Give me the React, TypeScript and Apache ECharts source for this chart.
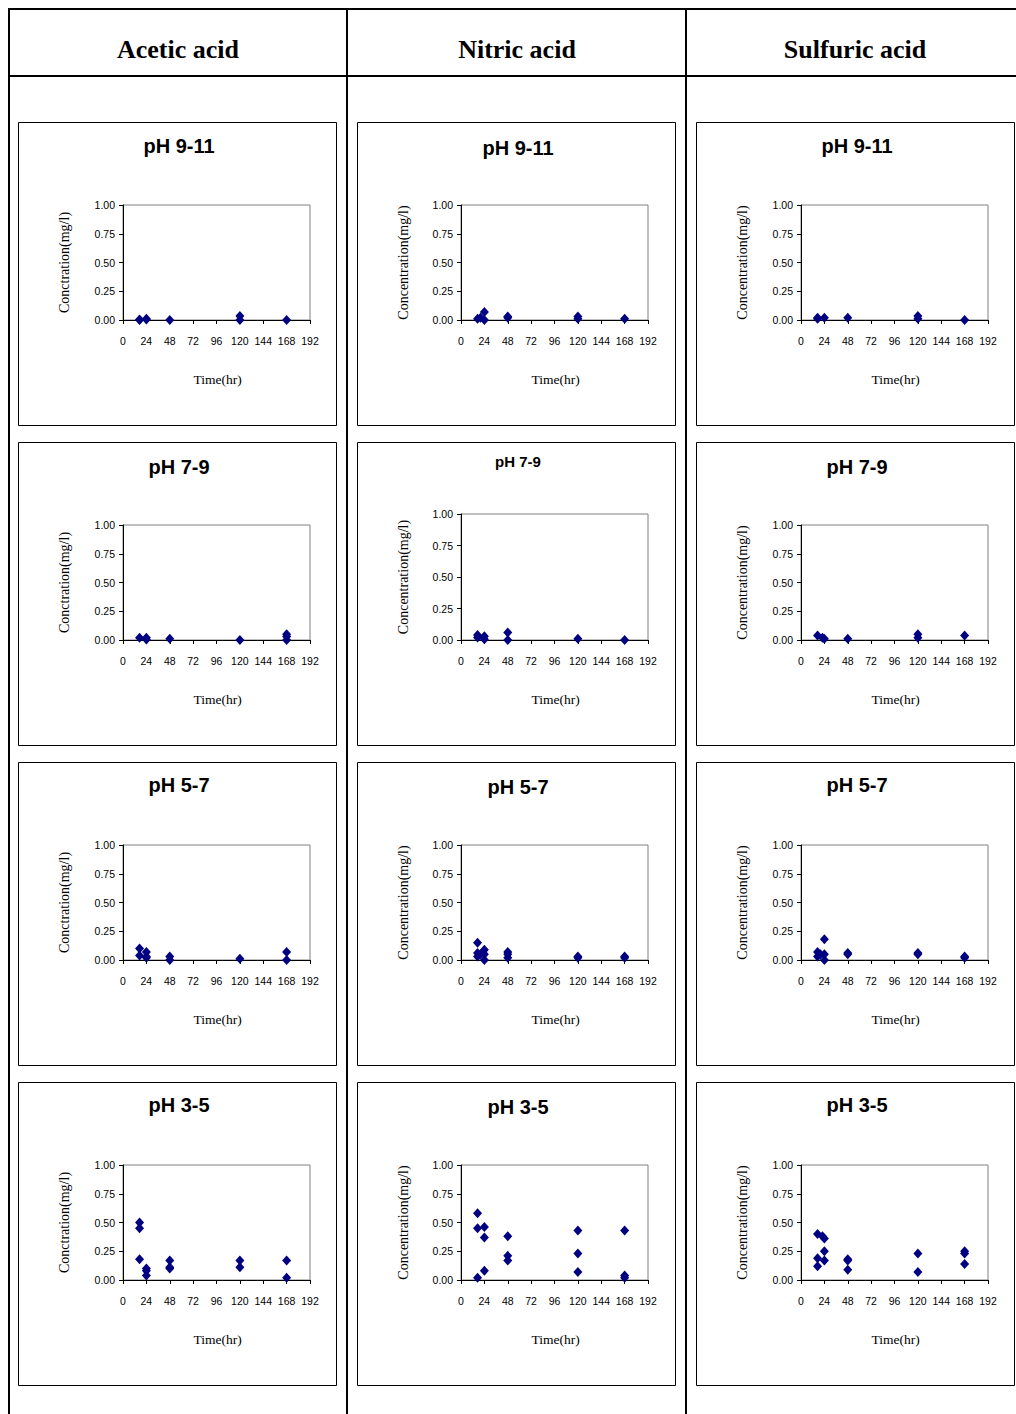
import React, { useEffect, useRef } from "react";
import * as echarts from "echarts";

// ---- labels ----
const acidNames = ["Acetic acid", "Nitric acid", "Sulfuric acid"];
const phRanges = ["pH 9-11", "pH 7-9", "pH 5-7", "pH 3-5"];
const yAxisNames = ["Conctration(mg/l)", "Concentration(mg/l)", "Concentration(mg/l)"];
const xAxisName = "Time(hr)";
const xMin = 0;
const xMax = 192;
const xStep = 24;
const yMin = 0;
const yMax = 1;
const yStep = 0.25;

// ---- data: [time (hr), concentration (mg/l)] ----
const aceticPh9to11 = [[17, 0.0], [17, 0.005], [24, 0.01], [24, 0.005], [48, 0.0], [120, 0.035], [120, 0.0], [168, 0.0]];
const nitricPh9to11 = [[17, 0.01], [20, 0.02], [24, 0.07], [24, 0.0], [48, 0.03], [48, 0.02], [120, 0.03], [120, 0.01], [168, 0.01]];
const sulfuricPh9to11 = [[17, 0.01], [17, 0.02], [24, 0.02], [48, 0.02], [120, 0.035], [120, 0.01], [168, 0.0]];

const aceticPh7to9 = [[17, 0.02], [24, 0.02], [24, 0.005], [48, 0.01], [120, 0.0], [168, 0.05], [168, 0.03], [168, 0.0]];
const nitricPh7to9 = [[17, 0.04], [17, 0.02], [24, 0.03], [24, 0.005], [48, 0.06], [48, 0.0], [120, 0.01], [168, 0.0]];
const sulfuricPh7to9 = [[17, 0.04], [22, 0.02], [24, 0.01], [48, 0.01], [120, 0.05], [120, 0.02], [168, 0.04]];

const aceticPh5to7 = [[17, 0.1], [17, 0.04], [24, 0.07], [24, 0.03], [24, 0.02], [48, 0.03], [48, 0.0], [120, 0.01], [168, 0.07], [168, 0.0]];
const nitricPh5to7 = [[17, 0.15], [17, 0.06], [17, 0.03], [20, 0.05], [24, 0.09], [24, 0.05], [24, 0.0], [48, 0.07], [48, 0.05], [48, 0.02], [120, 0.03], [120, 0.02], [168, 0.03], [168, 0.02]];
const sulfuricPh5to7 = [[17, 0.07], [17, 0.03], [20, 0.05], [24, 0.18], [24, 0.05], [24, 0.0], [48, 0.06], [48, 0.05], [120, 0.06], [120, 0.05], [168, 0.03], [168, 0.02]];

const aceticPh3to5 = [[17, 0.5], [17, 0.45], [17, 0.18], [24, 0.1], [24, 0.08], [24, 0.04], [48, 0.17], [48, 0.11], [48, 0.1], [120, 0.17], [120, 0.11], [168, 0.17], [168, 0.02]];
const nitricPh3to5 = [[17, 0.58], [17, 0.45], [17, 0.02], [24, 0.46], [24, 0.37], [24, 0.08], [48, 0.38], [48, 0.21], [48, 0.17], [120, 0.43], [120, 0.23], [120, 0.07], [168, 0.43], [168, 0.04], [168, 0.02]];
const sulfuricPh3to5 = [[17, 0.4], [17, 0.19], [17, 0.12], [22, 0.38], [24, 0.36], [24, 0.25], [24, 0.17], [48, 0.18], [48, 0.17], [48, 0.09], [120, 0.23], [120, 0.07], [168, 0.25], [168, 0.23], [168, 0.14]];

const panelData = [
  [aceticPh9to11, nitricPh9to11, sulfuricPh9to11],
  [aceticPh7to9, nitricPh7to9, sulfuricPh7to9],
  [aceticPh5to7, nitricPh5to7, sulfuricPh5to7],
  [aceticPh3to5, nitricPh3to5, sulfuricPh3to5],
];

// ---- layout ----
const W = 1016;
const H = 1414;
const colLeft = [18, 357, 696];
const rowTop = [122, 442, 762, 1082];
const panelW = 318;
const panelH = 303;

const NAVY = "#000080";
const SANS = "Liberation Sans, Arial, sans-serif";
const SERIF = "Liberation Serif, Times New Roman, serif";

function buildOption() {
  const grids: any[] = [];
  const xAxes: any[] = [];
  const yAxes: any[] = [];
  const series: any[] = [];
  const graphics: any[] = [];

  const bar = (x: number, y: number, w: number, h: number) => ({
    type: "rect",
    shape: { x, y, width: w, height: h },
    style: { fill: "#000" },
    silent: true,
  });
  graphics.push(bar(8, 8, W - 8, 2));
  graphics.push(bar(8, 8, 2, H - 8));
  graphics.push(bar(8, 75, W - 8, 2));
  graphics.push(bar(346, 8, 2, H - 8));
  graphics.push(bar(685, 8, 2, H - 8));

  const headerCenters = [178, 517, 855];
  acidNames.forEach((name, c) => {
    graphics.push({
      type: "text",
      x: headerCenters[c],
      y: 49,
      style: {
        text: name,
        font: `bold 26px ${SERIF}`,
        fill: "#000",
        align: "center",
        verticalAlign: "middle",
      },
      silent: true,
    });
  });

  let idx = 0;
  for (let r = 0; r < 4; r++) {
    for (let c = 0; c < 3; c++) {
      const px = colLeft[c];
      const py = rowTop[r];
      const special = r === 1 && c === 1;
      const gLeft = px + (c === 1 ? 104 : 105);
      const gTop = py + (special ? 72 : 83);
      const gW = 187;
      const gH = special ? 126 : 115;

      graphics.push({
        type: "rect",
        shape: { x: px + 0.5, y: py + 0.5, width: panelW, height: panelH },
        style: { fill: "none", stroke: "#000", lineWidth: 1 },
        silent: true,
      });

      const titleY = special ? py + 19 : py + [24, 25, 23, 23][r] + (c === 1 && !special ? 2 : 0);
      graphics.push({
        type: "text",
        x: px + panelW / 2 + 2,
        y: titleY,
        style: {
          text: phRanges[r],
          font: `bold ${special ? 15 : 20}px ${SANS}`,
          fill: "#000",
          align: "center",
          verticalAlign: "middle",
        },
        silent: true,
      });

      graphics.push({
        type: "text",
        x: px + 46,
        y: gTop + gH / 2,
        rotation: Math.PI / 2,
        style: {
          text: yAxisNames[c],
          font: `14px ${SERIF}`,
          fill: "#000",
          align: "center",
          verticalAlign: "middle",
        },
        silent: true,
      });

      graphics.push({
        type: "text",
        x: gLeft + gW / 2 + 1,
        y: gTop + gH + 59,
        style: {
          text: xAxisName,
          font: `13.5px ${SERIF}`,
          fill: "#000",
          align: "center",
          verticalAlign: "middle",
        },
        silent: true,
      });

      grids.push({
        left: gLeft,
        top: gTop,
        width: gW,
        height: gH,
        show: true,
        borderColor: "#808080",
        borderWidth: 1,
        backgroundColor: "transparent",
      });
      xAxes.push({
        type: "value",
        gridIndex: idx,
        min: xMin,
        max: xMax,
        interval: xStep,
        axisLine: { show: true, onZero: false, lineStyle: { color: "#000", width: 1 } },
        axisTick: { show: true, inside: false, length: 4, lineStyle: { color: "#000" } },
        axisLabel: { show: true, margin: 15, fontSize: 10.5, fontFamily: SANS, color: "#000", showMinLabel: true, showMaxLabel: true },
        splitLine: { show: false },
      });
      yAxes.push({
        type: "value",
        gridIndex: idx,
        min: yMin,
        max: yMax,
        interval: yStep,
        axisLine: { show: true, onZero: false, lineStyle: { color: "#000", width: 1 } },
        axisTick: { show: true, inside: false, length: 4, lineStyle: { color: "#000" } },
        axisLabel: {
          show: true,
          margin: 8,
          fontSize: 10.5,
          fontFamily: SANS,
          color: "#000",
          formatter: (v: number) => v.toFixed(2),
        },
        splitLine: { show: false },
      });
      series.push({
        type: "scatter",
        xAxisIndex: idx,
        yAxisIndex: idx,
        data: panelData[r][c],
        symbol: "diamond",
        symbolSize: [9, 10],
        itemStyle: { color: NAVY, opacity: 1 },
        clip: false,
        z: 5,
      });
      idx++;
    }
  }

  return {
    animation: false,
    backgroundColor: "#fff",
    grid: grids,
    xAxis: xAxes,
    yAxis: yAxes,
    series,
    graphic: { elements: graphics },
  };
}

export default function App() {
  const ref = useRef<HTMLDivElement>(null);
  useEffect(() => {
    if (!ref.current) return;
    const chart = echarts.init(ref.current, null, { renderer: "svg", width: W, height: H });
    chart.setOption(buildOption() as any);
    return () => chart.dispose();
  }, []);
  return (
    <div
      ref={ref}
      style={{ position: "absolute", left: 0, top: 0, width: W, height: H, background: "#fff" }}
    />
  );
}
